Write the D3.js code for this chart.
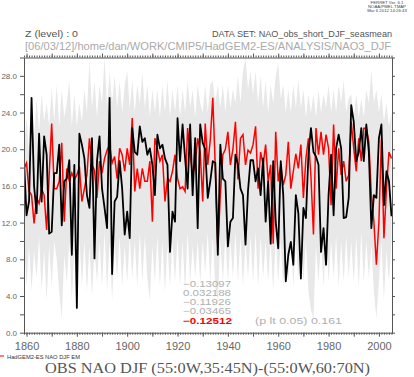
<!DOCTYPE html>
<html>
<head>
<meta charset="utf-8">
<script src="https://cdn.jsdelivr.net/npm/d3@7"></script>
<style>
  html, body { margin: 0; padding: 0; background: #fff; }
  svg { display: block; }
  .axis text { font-family: "Liberation Sans", "DejaVu Sans", sans-serif; fill: #666; }
  .axis line, .axis path { stroke: #555; }
</style>
</head>
<body>
<div id="chart"></div>
<script>
// NAO DJF: obs (black), HadGEM2-ES ensemble mean (red), ensemble spread (grey)
const firstYear = 1859;

const obsNAO = [
  18.8, 12.8, 14.3, 25.6, 16.0, 13.0, 21.7, 14.3, 21.4, 19.4,
  10.8, 11.0, 17.4, 17.4, 20.5, 11.7, 16.5, 16.8, 18.8, 8.5,
  18.3, 2.7, 21.7, 20.5, 19.0, 15.0, 13.6, 21.2, 8.1, 18.7,
  21.4, 15.7, 13.6, 11.4, 25.6, 6.4, 14.3, 14.8, 18.7, 15.7,
  10.7, 13.2, 10.3, 22.3, 19.7, 19.4, 22.5, 20.8, 21.2, 19.4,
  20.1, 18.3, 15.0, 21.6, 20.1, 20.5, 19.0, 18.3, 8.8, 13.2,
  12.1, 23.4, 18.7, 22.7, 19.0, 15.7, 22.7, 15.0, 21.2, 11.4,
  22.7, 20.7, 20.0, 14.7, 16.5, 18.7, 18.5, 8.5, 20.5, 16.8,
  16.5, 9.4, 12.1, 12.5, 19.4, 18.3, 15.7, 15.0, 9.6, 15.5,
  18.8, 18.8, 16.5, 17.9, 15.0, 19.0, 12.1, 16.5, 9.7, 18.7,
  12.1, 9.2, 18.7, 15.0, 5.6, 8.5, 9.9, 7.4, 15.0, 13.0,
  5.9, 13.6, 12.5, 19.4, 22.3, 19.7, 19.2, 18.3, 8.8, 11.4,
  7.4, 15.0, 19.4, 12.8, 20.1, 21.6, 20.1, 12.5, 12.6, 14.7,
  24.8, 23.0, 18.7, 19.7, 22.3, 18.7, 22.7, 19.7, 11.4, 15.0,
  14.7, 21.2, 22.7, 13.9, 17.6, 16.5, 12.7
];

const modelNAO = [
  17.9, 18.5, 15.4, 15.0, 11.9, 14.7, 14.1, 15.7, 15.0, 11.2,
  17.2, 22.8, 15.7, 15.7, 16.5, 20.7, 12.1, 17.9, 16.5, 17.4,
  16.7, 17.2, 18.1, 14.3, 15.7, 17.2, 21.2, 18.3, 17.7, 14.7,
  18.7, 17.4, 19.0, 19.9, 20.5, 18.5, 19.2, 16.8, 20.1, 19.4,
  17.6, 20.1, 18.3, 23.4, 15.4, 17.9, 15.7, 17.9, 16.5, 16.5,
  18.7, 12.1, 21.2, 20.1, 18.7, 19.4, 14.3, 16.8, 16.5, 17.6,
  19.4, 16.8, 15.7, 15.9, 15.4, 22.3, 19.4, 17.2, 18.3, 21.2,
  19.7, 14.3, 22.8, 18.3, 21.0, 25.6, 18.0, 9.2, 15.0, 19.4,
  20.0, 21.9, 18.3, 20.0, 23.0, 16.7, 21.2, 21.6, 18.3, 19.9,
  19.6, 20.5, 22.5, 15.7, 19.7, 18.3, 20.5, 16.5, 18.3, 9.7,
  21.9, 16.5, 18.3, 16.1, 17.2, 20.8, 15.7, 17.6, 19.5, 17.9,
  20.5, 14.7, 19.0, 21.2, 17.0, 10.7, 22.3, 19.4, 21.9, 19.4,
  21.6, 20.1, 13.9, 22.7, 15.7, 20.1, 17.2, 18.7, 16.5, 17.2,
  23.0, 20.1, 17.6, 21.2, 18.7, 22.3, 22.3, 20.8, 15.0, 12.1,
  7.4, 12.1, 21.2, 10.3, 15.7, 19.7, 19.0
];

const ensMax = [
  20.0, 23.5, 19.5, 24.0, 21.0, 25.5, 22.0, 26.0, 23.0, 25.0,
  22.5, 26.7, 23.0, 27.0, 22.5, 26.5, 23.5, 25.0, 27.5, 22.5,
  26.0, 22.5, 25.0, 23.0, 26.5, 24.0, 29.7, 24.5, 27.5, 23.5,
  27.0, 25.0, 30.0, 24.5, 28.5, 25.0, 28.0, 24.5, 27.5, 24.0,
  27.0, 28.5, 24.5, 27.5, 24.0, 27.0, 25.0, 28.3, 24.5, 27.0,
  23.5, 26.5, 24.0, 26.5, 23.5, 27.0, 24.0, 27.5, 23.5, 26.5,
  24.0, 27.0, 23.5, 26.5, 24.0, 27.5, 24.5, 26.5, 23.5, 27.0,
  25.0, 24.0, 27.0, 24.0, 27.0, 27.5, 25.0, 27.0, 24.5, 27.0,
  24.0, 27.0, 24.5, 26.5, 25.0, 28.0, 25.0, 28.5, 30.0, 26.5,
  28.5, 26.0, 28.5, 25.0, 28.0, 24.5, 27.5, 24.0, 27.0, 25.0,
  28.0, 29.4, 25.5, 27.0, 24.0, 26.5, 24.0, 27.0, 24.5, 27.5,
  24.5, 26.5, 23.5, 26.0, 24.0, 26.0, 23.5, 26.5, 24.0, 26.0,
  24.5, 27.0, 24.0, 26.5, 24.0, 27.0, 25.0, 27.5, 24.0, 25.5,
  26.0, 23.5, 26.0, 23.5, 25.5, 23.5, 26.5, 25.0, 28.6, 25.0,
  26.5, 24.0, 26.0, 23.0, 25.0, 22.5, 24.0
];

const ensMin = [
  10.0, 5.0, 9.5, 4.5, 9.0, 6.0, 10.5, 4.5, 9.0, 3.5,
  9.5, 5.0, 10.0, 8.0, 4.5, 1.5, 8.5, 5.5, 10.0, 3.5,
  9.0, 2.5, 10.5, 5.0, 10.0, 4.5, 9.5, 4.0, 9.0, 5.5,
  10.0, 5.0, 11.0, 4.5, 10.0, 3.5, 9.5, 6.0, 10.5, 5.0,
  9.5, 5.5, 10.5, 6.0, 10.0, 5.0, 11.0, 5.5, 10.5, 6.0,
  3.5, 9.5, 5.5, 10.5, 5.0, 10.0, 4.5, 9.5, 5.0, 10.0,
  5.5, 10.5, 5.0, 10.0, 4.5, 11.0, 5.5, 9.5, 6.0, 10.0,
  5.5, 10.0, 6.5, 11.0, 5.5, 10.5, 5.0, 3.5, 10.0, 5.5,
  10.5, 5.5, 10.0, 6.0, 11.0, 5.5, 10.5, 5.0, 10.0, 6.0,
  10.5, 5.5, 11.0, 5.0, 10.5, 6.0, 10.0, 5.5, 10.0, 4.5,
  10.5, 5.5, 10.0, 5.0, 9.5, 5.5, 10.5, 5.0, 10.0, 6.0,
  10.5, 5.5, 10.0, 4.5, 2.5, 1.5, 9.5, 5.5, 10.0, 5.0,
  10.5, 5.5, 10.0, 6.0, 10.5, 5.0, 10.0, 5.5, 10.5, 6.0,
  10.0, 5.5, 10.5, 5.0, 11.0, 5.5, 10.0, 6.0, 9.5, 4.5,
  1.5, 5.5, 10.0, 3.5, 9.0, 5.5, 10.0
];

const yLabelValues = [0, 4, 8, 12, 16, 20, 24, 28];
const xLabelYears = [1860, 1880, 1900, 1920, 1940, 1960, 1980, 2000];
const corrLines = ["\u22120.13097", "0.032188", "\u22120.11926", "\u22120.03465"];
const corrEM = "\u22120.12512";
const sigText = "(p lt 0.05) 0.161";

const headerLeft = "Z (level) : 0";
const headerRight = "DATA SET: NAO_obs_short_DJF_seasmean";
const pathText = "[06/03/12]/home/dan/WORK/CMIP5/HadGEM2-ES/ANALYSIS/NAO3_DJF";
const stampLines = ["FERRET Ver. 6.1", "NOAA/PMEL TMAP", "Mar  6 2012 14:26:43"];
const legendLabel = "HadGEM2-ES NAO DJF EM";
const titleText = "OBS NAO DJF (55:0W,35:45N)-(55:0W,60:70N)";

(() => {
  const width = 414, height = 377;
  const L = 24, R = 392, T = 57.5, B = 332.7;

  const svg = d3.select("#chart").append("svg")
    .attr("width", width).attr("height", height)
    .attr("viewBox", [0, 0, width, height]);

  const x = d3.scaleLinear().domain([1859, 2005.2]).range([L, R]);
  const y = d3.scaleLinear().domain([0, 30]).range([B, T]);

  svg.append("clipPath").attr("id", "plotclip")
    .append("rect").attr("x", L).attr("y", T).attr("width", R - L).attr("height", B - T);

  const plot = svg.append("g").attr("clip-path", "url(#plotclip)");

  // grey ensemble spread (min..max)
  const idx = d3.range(obsNAO.length);
  plot.append("path")
    .datum(idx)
    .attr("fill", "#e8e8e8")
    .attr("d", d3.area()
      .x(i => x(firstYear + i))
      .y0(i => y(ensMin[i]))
      .y1(i => y(ensMax[i])));

  const line = vals => d3.line()
    .x((d, i) => x(firstYear + i))
    .y(d => y(d))(vals);

  plot.append("path").attr("d", line(modelNAO))
    .attr("fill", "none").attr("stroke", "#ff0000").attr("stroke-width", 1.5);
  plot.append("path").attr("d", line(obsNAO))
    .attr("fill", "none").attr("stroke", "#000").attr("stroke-width", 1.8)
    .attr("stroke-linejoin", "round");

  // axes: minor ticks every year, bigger every decade
  const years = d3.range(1859, 2006);
  const decades = d3.range(1860, 2001, 10);
  const yTicks = d3.range(0, 31, 2);

  const ax = (sel, cls) => sel.append("g").attr("class", "axis " + cls);

  ax(svg, "x-minor").attr("transform", `translate(0,${B})`)
    .call(d3.axisBottom(x).tickValues(years).tickSize(2).tickSizeOuter(0).tickFormat(""));
  ax(svg, "x-major").attr("transform", `translate(0,${B})`)
    .call(d3.axisBottom(x).tickValues(decades).tickSize(4).tickSizeOuter(0).tickPadding(6)
      .tickFormat(d => xLabelYears.includes(d) ? d : ""))
    .call(g => g.select(".domain").remove())
    .selectAll("text").attr("font-size", 11);

  ax(svg, "x-top-minor").attr("transform", `translate(0,${T})`)
    .call(d3.axisTop(x).tickValues(years).tickSize(2).tickSizeOuter(0).tickFormat(""));
  ax(svg, "x-top-major").attr("transform", `translate(0,${T})`)
    .call(d3.axisTop(x).tickValues(decades).tickSize(4).tickFormat(""))
    .call(g => g.select(".domain").remove());

  ax(svg, "y-left").attr("transform", `translate(${L},0)`)
    .call(d3.axisLeft(y).tickValues(yTicks).tickSize(4).tickSizeOuter(0).tickPadding(3)
      .tickFormat(d => yLabelValues.includes(d) ? d3.format(".1f")(d) : ""))
    .selectAll("text").attr("font-size", 8);

  ax(svg, "y-right").attr("transform", `translate(${R},0)`)
    .call(d3.axisRight(y).tickValues(yTicks).tickSize(3).tickSizeOuter(0).tickFormat(""));

  const txt = (str, px, py, opts = {}) => {
    const t = svg.append("text").attr("x", px).attr("y", py).text(str)
      .attr("font-family", opts.family || "Liberation Sans, DejaVu Sans, sans-serif")
      .attr("font-size", opts.size || 10)
      .attr("fill", opts.fill || "#444");
    if (opts.anchor) t.attr("text-anchor", opts.anchor);
    if (opts.weight) t.attr("font-weight", opts.weight);
    if (opts.len) t.attr("textLength", opts.len).attr("lengthAdjust", "spacingAndGlyphs");
    return t;
  };

  // correlation numbers
  corrLines.forEach((s, i) =>
    txt(s, 183, 287 + i * 9.1, { size: 9, fill: "#b0b0b0", len: 48 }));
  txt(corrEM, 183, 324, { size: 9, fill: "#ff0000", weight: "bold", len: 49 });
  txt(sigText, 255, 324, { size: 9, fill: "#b0b0b0", len: 87 });

  // headers
  txt(headerLeft, 25, 37, { size: 9.5, fill: "#555", len: 53 });
  txt(headerRight, 212, 37, { size: 9.5, fill: "#555", len: 180 });
  txt(pathText, 25, 50, { size: 11, fill: "#aaa", len: 366 });
  stampLines.forEach((s, i) =>
    txt(s, 387, 4 + i * 4.2, { size: 4.3, fill: "#444", anchor: "middle" }));

  // legend + title
  svg.append("line").attr("x1", 0).attr("x2", 4).attr("y1", 356).attr("y2", 356)
    .attr("stroke", "#ff0000").attr("stroke-width", 1);
  txt(legendLabel, 7, 358.5, { size: 6, fill: "#333", len: 73 });
  txt(titleText, 45, 373, { family: "Liberation Serif, DejaVu Serif, serif",
    size: 15, fill: "#555", len: 325 });
})();
</script>
</body>
</html>
